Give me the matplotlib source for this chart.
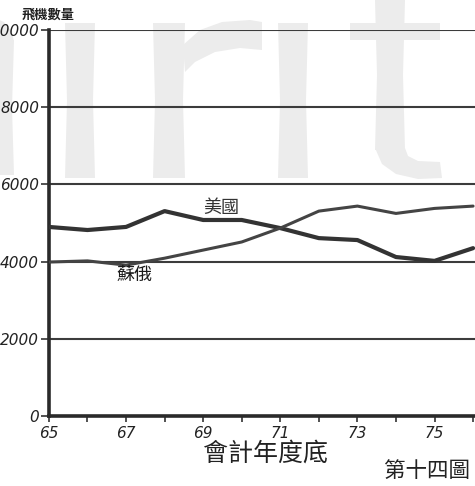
import matplotlib
matplotlib.use("Agg")
import matplotlib.pyplot as plt
from matplotlib.patches import Polygon

years = [65, 66, 67, 68, 69, 70, 71, 72, 73, 74, 75, 76]
us = [4900, 4820, 4900, 5310, 5080, 5080, 4870, 4610, 4560, 4120, 4020, 4350]
ussr = [3990, 4020, 3910, 4090, 4300, 4510, 4870, 5310, 5440, 5250, 5380, 5440]
yticks = [0, 2000, 4000, 6000, 8000, 10000]
xticks_labeled = [65, 67, 69, 71, 73, 75]

CJK = ['Noto Sans CJK TC', 'DejaVu Sans']
ink = '#333333'
W, H = 475, 486

fig = plt.figure(figsize=(4.75, 4.86), dpi=100)

# faint scanned watermark (decorative shapes, pixel coords -> figure coords)
wm = '#ececec'
def px(x, y):
    return (x / W, 1 - y / H)
def shape(pts):
    fig.patches.append(Polygon([px(*p) for p in pts], closed=True,
                               transform=fig.transFigure, facecolor=wm,
                               edgecolor='none', zorder=-5))
def stem(x0, x1, y0, y1):
    shape([(x0, y0), (x1, y0), (x1 - 2, (y0 + y1) / 2), (x1, y1),
           (x0, y1), (x0 + 2, (y0 + y1) / 2)])
stem(65, 95, 23, 178)      # i
stem(153, 185, 23, 178)    # r stem
stem(278, 308, 23, 178)    # i
stem(375, 405, 0, 150)     # t stem
stem(-5, 14, 40, 175)      # partial letter at left
shape([(-5, 18), (4, 22), (12, 32), (14, 42), (-5, 42)])
# r arm
shape([(183, 45), (200, 30), (222, 22), (250, 20), (262, 22), (262, 50),
       (240, 48), (215, 52), (195, 62), (185, 72)])
# t crossbar and tail
shape([(350, 23), (440, 23), (440, 40), (350, 40)])
shape([(375, 148), (405, 148), (408, 156), (418, 161), (440, 162), (442, 178),
       (418, 179), (396, 174), (382, 164)])

ax = fig.add_axes([0.103, 0.144, 0.897, 0.794])
ax.patch.set_alpha(0)
ax.set_xlim(65, 76.05)
ax.set_ylim(0, 10000)

for y in yticks[1:]:
    ax.axhline(y, color='#3c3c3c', lw=1.5, zorder=1)

ax.plot(years, us, color=ink, lw=3.0, zorder=3, solid_capstyle='round')
ax.plot(years, ussr, color='#444444', lw=2.2, zorder=3, solid_capstyle='round')

ax.text(69.48, 5390, '美國', family=CJK, fontsize=13, color=ink, ha='center', va='center')
ax.text(67.23, 3650, '蘇俄', family=CJK, fontsize=13, color='#1a1a1a', ha='center',
        va='center')

for s in ['top', 'right']:
    ax.spines[s].set_visible(False)
ax.spines['left'].set_linewidth(2.6)
ax.spines['bottom'].set_linewidth(2.6)
ax.spines['left'].set_color('#2a2a2a')
ax.spines['bottom'].set_color('#2a2a2a')

ax.set_yticks(yticks)
ax.set_yticklabels([str(v) for v in yticks], fontstyle='italic', fontsize=11, color='#222222')
ax.set_xticks(years)
ax.set_xticklabels([str(v) if v in xticks_labeled else '' for v in years],
                   fontstyle='italic', fontsize=11, color='#222222')
ax.tick_params(axis='y', length=6, width=1.2, color='#333333', pad=1)
ax.tick_params(axis='x', length=4, width=1.2, color='#333333', pad=3)

fig.text(0.0465, 0.971, '飛機數量', family=CJK, fontsize=9.5, fontweight='bold',
         color='#222222', ha='left', va='center')
fig.text(0.558, 1 - 441 / H, '會計年度底', family=CJK, fontsize=18, color='#222222',
         ha='center', va='top')
fig.text(0.99, 0.031, '第十四圖', family=CJK, fontsize=15.5, color='#222222',
         ha='right', va='center')

fig.savefig('out.png', dpi=100)
